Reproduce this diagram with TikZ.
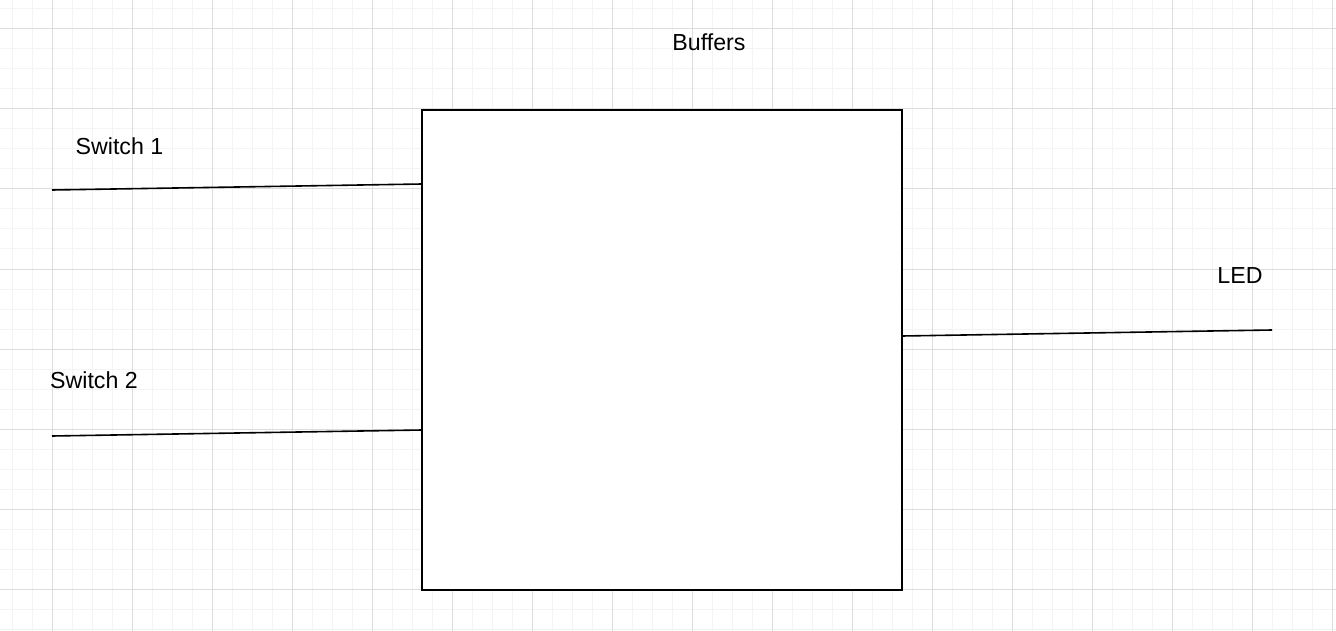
\documentclass[tikz,border=0pt]{standalone}
\usepackage{fontspec}
\setmainfont{Liberation Sans}
\definecolor{gridminor}{HTML}{F4F4F4}
\definecolor{gridmajor}{HTML}{DDDDDD}
\begin{document}
\begin{tikzpicture}[x=1pt,y=-1pt,
  lbl/.style={anchor=base,inner sep=0pt,font=\fontsize{23.2}{27}\selectfont},
  blockbox/.style={draw=black,line width=2pt,fill=white,minimum width=480pt,minimum height=480pt,inner sep=0pt},
  wire/.style={draw=black,line width=1.6pt}]
\useasboundingbox (0,0) rectangle (1336,631);
\fill[white] (0,0) rectangle (1336,631);
% grid
\foreach \x in {12,32,...,1332} \draw[gridminor,line width=1pt] (\x,0) -- (\x,631);
\foreach \y in {9,29,...,629} \draw[gridminor,line width=1pt] (0,\y) -- (1336,\y);
\foreach \x in {52,132,...,1332} \draw[gridmajor,line width=1pt] (\x,0) -- (\x,631);
\foreach \y in {29,109,...,609} \draw[gridmajor,line width=1pt] (0,\y) -- (1336,\y);
% box
\node[blockbox] (box) at (662,350) {};
% wires
\coordinate (s1) at (52,190);
\coordinate (s1in) at (422,184);
\coordinate (s2) at (52,436);
\coordinate (s2in) at (422,430);
\coordinate (ledout) at (902,336);
\coordinate (led) at (1272,330);
\draw[wire] (s1) -- (s1in);
\draw[wire] (s2) -- (s2in);
\draw[wire] (ledout) -- (led);
% labels
\node[lbl] (t1) at (119.5,155) {Switch 1};
\node[lbl] (t2) at (94,388.5) {Switch 2};
\node[lbl] (tb) at (709,51) {Buffers};
\node[lbl] (tl) at (1240,283) {LED};
\end{tikzpicture}
\end{document}
